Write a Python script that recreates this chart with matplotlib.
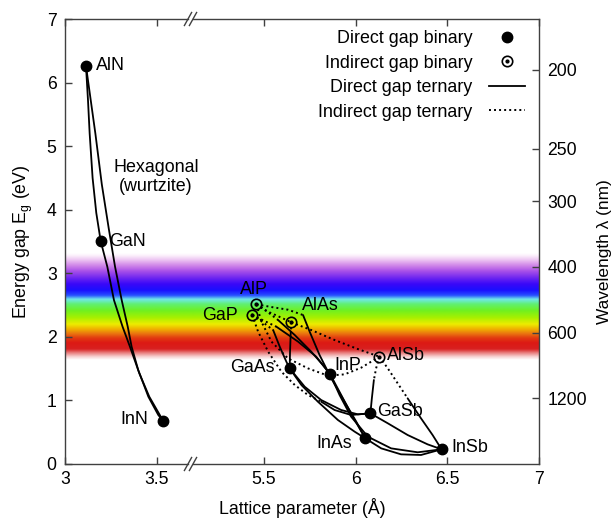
import numpy as np
import matplotlib
matplotlib.use("Agg")
import matplotlib.pyplot as plt
from matplotlib.colors import LinearSegmentedColormap
from matplotlib.lines import Line2D
from matplotlib.legend_handler import HandlerTuple

plt.rcParams['font.family'] = ['Liberation Sans', 'DejaVu Sans']
plt.rcParams['font.size'] = 12.8
plt.rcParams['mathtext.default'] = 'regular'

# ---------------- data ----------------
# binaries: hexagonal nitrides (direct)
nitride_names = ['AlN', 'GaN', 'InN']
nitride_a = [3.114, 3.194, 3.534]
nitride_eg = [6.263, 3.506, 0.676]

# cubic III-V, direct gap binaries
direct_names = ['GaAs', 'InP', 'GaSb', 'InAs', 'InSb']
direct_a = [5.641, 5.862, 6.081, 6.053, 6.469]
direct_eg = [1.504, 1.410, 0.797, 0.404, 0.231]

# cubic III-V, indirect gap binaries
indirect_names = ['AlP', 'GaP', 'AlAs', 'AlSb']
indirect_a = [5.460, 5.437, 5.650, 6.130]
indirect_eg = [2.511, 2.343, 2.228, 1.688]

# ternary curves
AlGaN_a = [3.114, 3.125, 3.134, 3.150, 3.170, 3.194]
AlGaN_eg = [6.263, 5.72, 5.20, 4.50, 3.95, 3.506]
GaInN_a = [3.194, 3.230, 3.266, 3.313, 3.353, 3.404, 3.458, 3.534]
GaInN_eg = [3.506, 3.103, 2.579, 2.159, 1.845, 1.426, 1.059, 0.676]
AlInN_a = [3.114, 3.140, 3.165, 3.200, 3.238, 3.272, 3.308, 3.341, 3.362, 3.398, 3.453, 3.507, 3.534]
AlInN_eg = [6.263, 5.72, 5.20, 4.40, 3.70, 3.103, 2.579, 2.159, 1.845, 1.478, 1.059, 0.771, 0.676]

# direct-gap parts (solid)
AlInAs_a = [5.714, 5.750, 5.804, 5.868, 5.940, 6.004, 6.053]
AlInAs_eg = [2.343, 2.081, 1.714, 1.347, 0.980, 0.666, 0.404]
InPAs_a = [5.862, 5.922, 5.985, 6.053]
InPAs_eg = [1.410, 1.085, 0.744, 0.404]
GaInAs_a = [5.641, 5.705, 5.795, 5.904, 5.995, 6.053]
GaInAs_eg = [1.504, 1.242, 0.980, 0.692, 0.509, 0.404]
GaAsSb_a = [5.641, 5.723, 5.813, 5.922, 6.013, 6.081]
GaAsSb_eg = [1.504, 1.216, 1.006, 0.849, 0.781, 0.797]
InAsSb_a = [6.053, 6.140, 6.248, 6.357, 6.469]
InAsSb_eg = [0.404, 0.246, 0.152, 0.142, 0.231]
GaInSb_a = [6.081, 6.176, 6.284, 6.393, 6.469]
GaInSb_eg = [0.797, 0.640, 0.456, 0.309, 0.231]
InPSb_a = [5.862, 5.913, 5.976, 6.067, 6.194, 6.339, 6.469]
InPSb_eg = [1.410, 1.085, 0.744, 0.430, 0.246, 0.184, 0.231]
GaPSb_dir_a = [5.813, 5.886, 5.976, 6.081]
GaPSb_dir_eg = [0.980, 0.849, 0.771, 0.797]
GaPAs_dir_a = [5.551, 5.587, 5.623, 5.641]
GaPAs_dir_eg = [2.107, 1.845, 1.609, 1.504]
AlGaAs_dir_a = [5.647, 5.643, 5.641]
AlGaAs_dir_eg = [2.081, 1.766, 1.504]
AlInP_dir_a = [5.578, 5.669, 5.759, 5.822, 5.862]
AlInP_dir_eg = [2.264, 2.028, 1.766, 1.557, 1.410]
GaInP_dir_a = [5.569, 5.687, 5.786, 5.862]
GaInP_dir_eg = [2.159, 1.924, 1.688, 1.410]
AlGaSb_dir_a = [6.100, 6.089, 6.081]
AlGaSb_dir_eg = [1.321, 1.033, 0.797]
AlInSb_dir_a = [6.284, 6.357, 6.420, 6.469]
AlInSb_dir_eg = [1.033, 0.718, 0.456, 0.231]

# indirect-gap parts (dotted)
AlGaP_a = [5.460, 5.437]
AlGaP_eg = [2.511, 2.343]
AlPAs_a = [5.460, 5.524, 5.596, 5.650]
AlPAs_eg = [2.511, 2.395, 2.301, 2.228]
AlInAs_ind_a = [5.460, 5.542, 5.632, 5.714]
AlInAs_ind_eg = [2.511, 2.469, 2.427, 2.343]
AlAsSb_a = [5.650, 5.759, 5.886, 6.013, 6.130]
AlAsSb_eg = [2.228, 2.107, 1.950, 1.808, 1.688]
AlPSb_a = [5.460, 5.487, 5.542, 5.632, 5.741, 5.850, 5.940, 6.031, 6.130]
AlPSb_eg = [2.511, 2.238, 1.924, 1.661, 1.504, 1.389, 1.410, 1.515, 1.688]
GaPSb_ind_a = [5.437, 5.469, 5.524, 5.596, 5.669, 5.741, 5.813]
GaPSb_ind_eg = [2.343, 2.081, 1.766, 1.452, 1.242, 1.085, 0.980]
GaPAs_ind_a = [5.437, 5.496, 5.551]
GaPAs_ind_eg = [2.343, 2.228, 2.107]
AlGaAs_ind_a = [5.650, 5.647]
AlGaAs_ind_eg = [2.228, 2.081]
AlInP_ind_a = [5.460, 5.524, 5.578]
AlInP_ind_eg = [2.511, 2.385, 2.264]
GaInP_ind_a = [5.437, 5.505, 5.569]
GaInP_ind_eg = [2.343, 2.248, 2.159]
AlGaSb_ind_a = [6.130, 6.112, 6.100]
AlGaSb_ind_eg = [1.688, 1.504, 1.321]
AlInSb_ind_a = [6.130, 6.176, 6.230, 6.284]
AlInSb_ind_eg = [1.688, 1.504, 1.268, 1.033]

# wavelength axis
wavelengths = [200, 250, 300, 400, 600, 1200]
hc = 1240.0  # eV nm

# visible-spectrum band colour stops (energy eV, colour)
band_E = [1.63, 1.68, 1.74, 1.80, 1.90, 1.97, 2.04, 2.11, 2.19, 2.29, 2.40, 2.50,
          2.58, 2.64, 2.72, 2.82, 2.92, 3.02, 3.10, 3.18, 3.26, 3.30]
band_c = ['#ffffff', '#f6d0d0', '#e87a7a', '#d82020', '#dc1a14', '#e23a10', '#ea7410',
          '#f0b000', '#ecec00', '#a8f000', '#70f020', '#60f070', '#70e8e8', '#2850ff',
          '#1a10ff', '#3a08f8', '#7028f0', '#a850e8', '#cc80e8', '#e8b8f0', '#fbeefb', '#ffffff']

direct_curves = [(AlGaN_a, AlGaN_eg), (GaInN_a, GaInN_eg), (AlInN_a, AlInN_eg)]
right_direct = [(AlInAs_a, AlInAs_eg), (InPAs_a, InPAs_eg), (GaInAs_a, GaInAs_eg),
                (GaAsSb_a, GaAsSb_eg), (InAsSb_a, InAsSb_eg), (GaInSb_a, GaInSb_eg),
                (InPSb_a, InPSb_eg), (GaPSb_dir_a, GaPSb_dir_eg), (GaPAs_dir_a, GaPAs_dir_eg),
                (AlGaAs_dir_a, AlGaAs_dir_eg), (AlInP_dir_a, AlInP_dir_eg),
                (GaInP_dir_a, GaInP_dir_eg), (AlGaSb_dir_a, AlGaSb_dir_eg),
                (AlInSb_dir_a, AlInSb_dir_eg)]
right_indirect = [(AlGaP_a, AlGaP_eg), (AlPAs_a, AlPAs_eg), (AlInAs_ind_a, AlInAs_ind_eg),
                  (AlAsSb_a, AlAsSb_eg), (AlPSb_a, AlPSb_eg), (GaPSb_ind_a, GaPSb_ind_eg),
                  (GaPAs_ind_a, GaPAs_ind_eg), (AlGaAs_ind_a, AlGaAs_ind_eg),
                  (AlInP_ind_a, AlInP_ind_eg), (GaInP_ind_a, GaInP_ind_eg),
                  (AlGaSb_ind_a, AlGaSb_ind_eg), (AlInSb_ind_a, AlInSb_ind_eg)]

# ---------------- layout ----------------
W, H = 616, 520
fig = plt.figure(figsize=(W / 100, H / 100), dpi=100)

def fx(px):
    return px / W

def fy(py):
    return 1 - py / H

x0, x1 = 65, 539
ytop, ybot = 19, 464
xl_end, xr_start = 188, 193
ppu = 184.0  # pixels per Angstrom

B = fy(ybot)
Ht = fy(ytop) - fy(ybot)

# background rainbow band
bg = fig.add_axes([fx(x0), B, fx(x1) - fx(x0), Ht], zorder=0)
bg.set_axis_off()
E_lo, E_hi = band_E[0], band_E[-1]
cmap = LinearSegmentedColormap.from_list(
    'band', [((e - E_lo) / (E_hi - E_lo), c) for e, c in zip(band_E, band_c)])
grad = np.linspace(E_lo, E_hi, 500).reshape(-1, 1)
bg.imshow(grad, extent=[0, 1, E_lo, E_hi], aspect='auto', origin='lower',
          cmap=cmap, vmin=E_lo, vmax=E_hi, interpolation='bilinear')
bg.set_xlim(0, 1)
bg.set_ylim(0, 7)

axL = fig.add_axes([fx(x0), B, fx(xl_end) - fx(x0), Ht], zorder=1)
axR = fig.add_axes([fx(xr_start), B, fx(x1) - fx(xr_start), Ht], zorder=1)
for ax in (axL, axR):
    ax.set_facecolor('none')
    ax.set_ylim(0, 7)
    for s in ax.spines.values():
        s.set_color('#404040')
        s.set_linewidth(1.0)

axL.set_xlim(3, 3 + (xl_end - x0) / ppu)
axR.set_xlim(5.5 - (264 - xr_start) / ppu, 7)
axL.spines['right'].set_visible(False)
axR.spines['left'].set_visible(False)

TICK_FS = 12.7
axL.set_xticks([3, 3.5])
axL.set_xticklabels(['3', '3.5'])
axR.set_xticks([5.5, 6, 6.5, 7])
axR.set_xticklabels(['5.5', '6', '6.5', '7'])
axL.set_yticks(range(0, 8))
axR.set_yticks([])
for ax in (axL, axR):
    ax.tick_params(axis='x', direction='in', top=True, length=5, width=1.0,
                   color='#404040', pad=5, labelsize=TICK_FS)
axL.tick_params(axis='y', direction='in', length=5, width=1.0, color='#404040',
                pad=6, labelsize=TICK_FS)

# wavelength axis
axW = axR.twinx()
axW.set_ylim(0, 7)
axW.set_yticks(hc / np.array(wavelengths, dtype=float))
axW.set_yticklabels([str(w) for w in wavelengths])
axW.tick_params(axis='y', direction='in', length=5, width=1.0, color='#404040',
                pad=6, labelsize=TICK_FS)
for s in axW.spines.values():
    s.set_visible(False)
axW.set_facecolor('none')

# curves
lw = 1.3
dot_style = (0, (1.0, 1.6))
for a, e in direct_curves:
    axL.plot(a, e, color='black', lw=lw, zorder=2, solid_capstyle='round')
for a, e in right_direct:
    axR.plot(a, e, color='black', lw=lw, zorder=2, solid_capstyle='round')
for a, e in right_indirect:
    axR.plot(a, e, color='black', lw=1.4, ls=dot_style, zorder=2)

# binaries
axL.plot(nitride_a, nitride_eg, 'o', color='black', ms=7.5, zorder=3)
axR.plot(direct_a, direct_eg, 'o', color='black', ms=7.5, zorder=3)
axR.plot(indirect_a, indirect_eg, 'o', mfc='none', mec='black', ms=7.5, mew=1.2, zorder=3)
axR.plot(indirect_a, indirect_eg, 'o', color='black', ms=2.0, zorder=3)

# labels for compounds
def dx(px, left=False):
    return 3 + (px - 65) / ppu if left else 5.5 + (px - 264) / ppu

def dy(py):
    return (ybot - py) / ((ybot - ytop) / 7.0)

LAB_FS = 12.9
lab_kw = dict(fontsize=LAB_FS, va='center', zorder=4)
axL.text(dx(96, True), dy(66), 'AlN', ha='left', **lab_kw)
axL.text(dx(109, True), dy(241), 'GaN', ha='left', **lab_kw)
axL.text(dx(148, True), dy(420), 'InN', ha='right', **lab_kw)
axL.text(dx(156, True), dy(177), 'Hexagonal\n(wurtzite)', ha='center', va='center',
         fontsize=LAB_FS, linespacing=1.2, multialignment='center', clip_on=False)
axR.text(dx(254), dy(289), 'AlP', ha='center', **lab_kw)
axR.text(dx(238), dy(316), 'GaP', ha='right', **lab_kw)
axR.text(dx(302), dy(305), 'AlAs', ha='left', **lab_kw)
axR.text(dx(388), dy(356), 'AlSb', ha='left', **lab_kw)
axR.text(dx(275), dy(368), 'GaAs', ha='right', **lab_kw)
axR.text(dx(335), dy(365), 'InP', ha='left', **lab_kw)
axR.text(dx(378), dy(412), 'GaSb', ha='left', **lab_kw)
axR.text(dx(352), dy(443), 'InAs', ha='right', **lab_kw)
axR.text(dx(452), dy(447), 'InSb', ha='left', **lab_kw)

# break marks
for cx in (xl_end, xr_start):
    for yy in (ytop, ybot):
        fig.add_artist(Line2D([fx(cx - 3.6), fx(cx + 3.6)], [fy(yy + 6.5), fy(yy - 6.5)],
                              color='#404040', lw=1.0))

# axis titles
TITLE_FS = 12.8
fig.text(fx(302), fy(508), 'Lattice parameter (Å)', ha='center', va='center', fontsize=TITLE_FS)
fig.text(fx(23), fy(242), 'Energy gap E$_{g}$ (eV)', ha='center', va='center',
         rotation=90, fontsize=TITLE_FS)
fig.text(fx(604), fy(252), 'Wavelength λ (nm)', ha='center', va='center',
         rotation=90, fontsize=12.4)

# legend
h1 = Line2D([], [], marker='o', color='black', ls='none', ms=7.5)
h2 = (Line2D([], [], marker='o', mfc='none', mec='black', ms=7.5, mew=1.2, ls='none'),
      Line2D([], [], marker='o', color='black', ms=2.0, ls='none'))
h3 = Line2D([], [], color='black', lw=1.3)
h4 = Line2D([], [], color='black', lw=1.4, ls=dot_style)
leg = axW.legend([h1, h2, h3, h4],
                 ['Direct gap binary', 'Indirect gap binary',
                  'Direct gap ternary', 'Indirect gap ternary'],
                 loc='upper right', bbox_to_anchor=(fx(525), fy(30)),
                 bbox_transform=fig.transFigure, frameon=False, markerfirst=False,
                 handlelength=2.0, handletextpad=0.95, borderpad=0, borderaxespad=0,
                 labelspacing=0.42, fontsize=12.9,
                 handler_map={tuple: HandlerTuple(ndivide=1)})
leg.set_zorder(5)

fig.savefig('out.png', dpi=100)
